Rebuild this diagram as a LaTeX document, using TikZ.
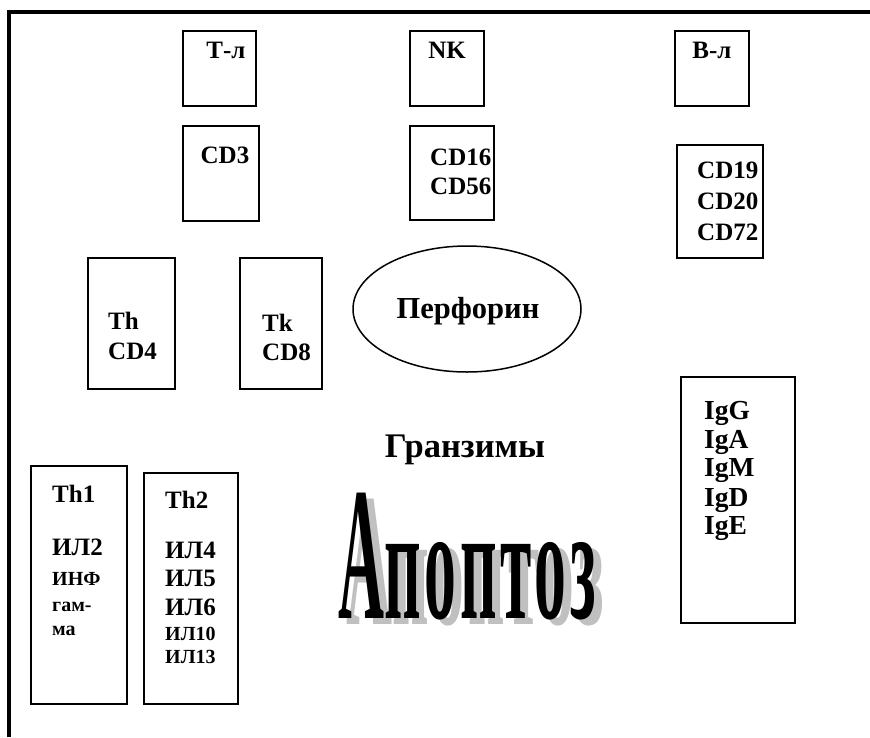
\documentclass[tikz,border=0pt]{standalone}
\usepackage{fontspec}
\setmainfont{Liberation Serif}
\usepackage{graphicx}
\usetikzlibrary{shapes.geometric}
\definecolor{shadowgray}{RGB}{192,192,192}
\tikzset{
  cellbox/.style={draw=black, line width=1.5pt},
  big/.style={font=\fontsize{25}{29}\selectfont\bfseries, inner sep=0pt},
  igfont/.style={font=\fontsize{27.5}{29}\selectfont\bfseries, inner sep=0pt},
  small/.style={font=\fontsize{20}{23}\selectfont\bfseries, inner sep=0pt},
  frameline/.style={draw=black, line width=3.8pt},
  wordart/.style={inner sep=0pt, anchor=base west},
}
\newcommand{\apword}{{\fontsize{190}{190}\selectfont\bfseries\addfontfeature{LetterSpace=6}\scalebox{0.335}[1]{А}\scalebox{0.335}[0.85]{поптоз}}}
\begin{document}
\begin{tikzpicture}[x=1pt, y=-1pt]
\useasboundingbox (0,0) rectangle (870,737);
\fill[white] (0,0) rectangle (870,737);
% outer frame
\coordinate (fbl) at (9,737);
\coordinate (ftl) at (9,12);
\coordinate (ftr) at (870,12);
\draw[frameline] (fbl) -- (ftl) -- (ftr);
% boxes
\draw[cellbox] (183,31) rectangle (256,106);
\draw[cellbox] (410,31) rectangle (484,106);
\draw[cellbox] (675,31) rectangle (749,106);
\draw[cellbox] (183,126) rectangle (259,221);
\draw[cellbox] (410,126) rectangle (494,220);
\draw[cellbox] (677,145) rectangle (763,258);
\draw[cellbox] (88,258) rectangle (175,389);
\draw[cellbox] (240,258) rectangle (322,389);
\draw[cellbox] (681,377) rectangle (795,623);
\draw[cellbox] (31,466) rectangle (127,704);
\draw[cellbox] (144,473) rectangle (238,704);
\node[draw=black, line width=1.5pt, ellipse, minimum width=228pt, minimum height=126pt, inner sep=0pt] (perf) at (467,309) {};
% texts
\node[big, anchor=base] (tl) at (226,58) {Т-л};
\node[big, anchor=base] (nk) at (447,58) {NK};
\node[big, anchor=base] (bl) at (712,58) {В-л};
\node[big, anchor=base] (cd3) at (225,163) {CD3};
\node[big, anchor=base west] (cd16) at (430,165) {CD16};
\node[big, anchor=base west] (cd56) at (430,194) {CD56};
\node[big, anchor=base west] (cd19) at (697,178) {CD19};
\node[big, anchor=base west] (cd20) at (697,209) {CD20};
\node[big, anchor=base west] (cd72) at (697,240) {CD72};
\node[big, anchor=base west] (th) at (108,329) {Th};
\node[big, anchor=base west] (cd4) at (108,359) {CD4};
\node[big, anchor=base west] (tk) at (262,331) {Tk};
\node[big, anchor=base west] (cd8) at (262,360) {CD8};
\node[big, anchor=base, font=\fontsize{30.5}{34}\selectfont\bfseries] (perft) at (468,318) {Перфорин};
\node[big, anchor=base, font=\fontsize{34.5}{38}\selectfont\bfseries] (granz) at (465,457) {Гранзимы};
\node[igfont, anchor=base west] (igg) at (704,419) {IgG};
\node[igfont, anchor=base west] (iga) at (704,448) {IgA};
\node[igfont, anchor=base west] (igm) at (704,476) {IgM};
\node[igfont, anchor=base west] (igd) at (704,506) {IgD};
\node[igfont, anchor=base west] (ige) at (704,534) {IgE};
\node[big, anchor=base west] (th1) at (52,502) {Th1};
\node[big, anchor=base west] (il2) at (52,555) {ИЛ2};
\node[small, anchor=base west] (inf) at (52,585) {ИНФ};
\node[small, anchor=base west] (gam) at (52,611) {гам-};
\node[small, anchor=base west] (ma) at (52,635) {ма};
\node[big, anchor=base west] (th2) at (165,508) {Th2};
\node[big, anchor=base west] (il4) at (165,558) {ИЛ4};
\node[big, anchor=base west] (il5) at (165,586) {ИЛ5};
\node[big, anchor=base west] (il6) at (165,615) {ИЛ6};
\node[small, anchor=base west] (il10) at (165,640) {ИЛ10};
\node[small, anchor=base west] (il13) at (165,663) {ИЛ13};
% Apoptoz with shadow
\node[wordart, text=shadowgray] (apshadow) at (346,624) {\apword};
\node[wordart, text=black] (ap) at (338,618) {\apword};
\end{tikzpicture}
\end{document}
